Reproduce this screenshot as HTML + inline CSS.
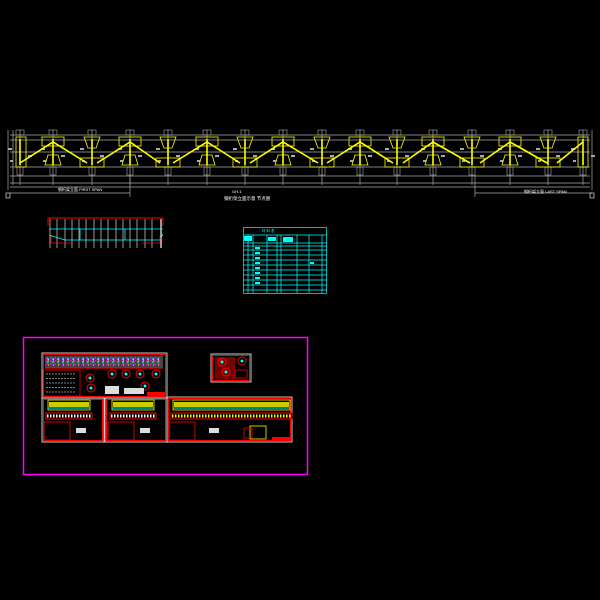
<!DOCTYPE html>
<html><head><meta charset="utf-8"><style>html,body{margin:0;padding:0;background:#000}svg{display:block}</style></head>
<body>
<svg width="600" height="600" viewBox="0 0 600 600" xmlns="http://www.w3.org/2000/svg" xmlns:xlink="http://www.w3.org/1999/xlink">
<defs>
<g id="col"><line x1="0" x2="0" y1="130" y2="185" stroke="#aaa" stroke-width="0.7"/><rect x="-4" y="130" width="8" height="5" fill="none" stroke="#aaa" stroke-width="0.6"/><rect x="-3" y="167" width="6" height="8" fill="none" stroke="#aaa" stroke-width="0.6"/><rect x="-12" y="148" width="4" height="2" fill="#aaa"/><rect x="8" y="155" width="4" height="2" fill="#aaa"/><rect x="-10" y="160" width="3" height="2" fill="#aaa"/><line x1="0" x2="0" y1="139" y2="165" stroke="#ff0" stroke-width="1.6"/></g>
<g id="gt" fill="none" stroke="#ff0" stroke-width="0.8"><rect x="-11" y="137" width="22" height="9"/><path d="M-5 155L-8 165H8L5 155Z"/></g>
<g id="gb" fill="none" stroke="#ff0" stroke-width="0.8"><path d="M-8 137H8L4 148H-4Z"/><rect x="-12" y="158" width="24" height="9"/></g>
<g id="circ"><circle r="4" fill="none" stroke="#f00" stroke-width="1"/><circle r="1.5" fill="#0ff"/></g>
</defs>
<rect width="600" height="600" fill="#000"/>
<g stroke="#aaa" stroke-width="0.7">
<line x1="10" x2="590" y1="135" y2="135"/><line x1="10" x2="590" y1="140" y2="140"/><line x1="10" x2="590" y1="152" y2="152"/><line x1="10" x2="590" y1="167" y2="167"/><line x1="10" x2="590" y1="176" y2="176"/><line x1="10" x2="590" y1="183" y2="183"/><line x1="10" x2="590" y1="187" y2="187"/>
<line x1="8" x2="8" y1="130" y2="190"/><line x1="13" x2="13" y1="130" y2="185"/><line x1="592" x2="592" y1="130" y2="190"/>
<line x1="10" x2="130" y1="193" y2="193"/><line x1="475" x2="592" y1="193" y2="193"/>
<line x1="130" x2="130" y1="175" y2="197"/><line x1="475" x2="475" y1="175" y2="197"/>
</g>
<rect x="6" y="193" width="4" height="5" fill="none" stroke="#fff" stroke-width="0.6"/>
<rect x="590" y="193" width="4" height="5" fill="none" stroke="#fff" stroke-width="0.6"/>
<use xlink:href="#col" x="20"/><use xlink:href="#col" x="53"/><use xlink:href="#col" x="92"/><use xlink:href="#col" x="130"/><use xlink:href="#col" x="168"/><use xlink:href="#col" x="207"/><use xlink:href="#col" x="245"/><use xlink:href="#col" x="283"/><use xlink:href="#col" x="322"/><use xlink:href="#col" x="360"/><use xlink:href="#col" x="397"/><use xlink:href="#col" x="433"/><use xlink:href="#col" x="472"/><use xlink:href="#col" x="510"/><use xlink:href="#col" x="548"/><use xlink:href="#col" x="583"/>
<path d="M20 163L53 142L87 163M97 163L130 142L160 163M173 163L207 142L240 163M250 163L283 142L318 163M327 163L360 142L393 163M403 163L433 142L470 163M480 163L510 142L547 163M557 163L583 142" fill="none" stroke="#ff0" stroke-width="1.6"/>
<use xlink:href="#gt" x="53"/><use xlink:href="#gt" x="130"/><use xlink:href="#gt" x="207"/><use xlink:href="#gt" x="283"/><use xlink:href="#gt" x="360"/><use xlink:href="#gt" x="433"/><use xlink:href="#gt" x="510"/>
<use xlink:href="#gb" x="92"/><use xlink:href="#gb" x="168"/><use xlink:href="#gb" x="245"/><use xlink:href="#gb" x="322"/><use xlink:href="#gb" x="397"/><use xlink:href="#gb" x="472"/><use xlink:href="#gb" x="548"/>
<rect x="16" y="137" width="10" height="30" fill="none" stroke="#ff0" stroke-width="0.8"/>
<rect x="578" y="137" width="10" height="30" fill="none" stroke="#ff0" stroke-width="0.8"/>
<g font-family="Liberation Sans, Noto Sans CJK SC, sans-serif" fill="#fff">
<text x="58" y="191" font-size="4">钢桁架立面 FIRST SPAN</text>
<text x="232" y="193" font-size="4">GH-1</text>
<text x="224" y="200" font-size="4.5">钢桁架立面示意 节点图</text>
<text x="524" y="193" font-size="4">钢桁架立面 LAST SPAN</text>
</g>
<path d="M48 226V218H163V226" fill="none" stroke="#f00" stroke-width="0.9"/>
<g stroke="#fff" stroke-width="0.6">
<line x1="50" x2="50" y1="219" y2="248"/><line x1="57" x2="57" y1="219" y2="248"/><line x1="65" x2="65" y1="219" y2="248"/><line x1="72" x2="72" y1="219" y2="248"/><line x1="79" x2="79" y1="219" y2="248"/><line x1="86" x2="86" y1="219" y2="248"/><line x1="94" x2="94" y1="219" y2="248"/><line x1="101" x2="101" y1="219" y2="248"/><line x1="108" x2="108" y1="219" y2="248"/><line x1="116" x2="116" y1="219" y2="248"/><line x1="123" x2="123" y1="219" y2="248"/><line x1="130" x2="130" y1="219" y2="248"/><line x1="137" x2="137" y1="219" y2="248"/><line x1="145" x2="145" y1="219" y2="248"/><line x1="152" x2="152" y1="219" y2="248"/><line x1="161" x2="161" y1="219" y2="248" stroke-width="1.2"/>
</g>
<path d="M49 229H163M49 235L65 240H160L163 234M80 229V240M125 229V240" fill="none" stroke="#0ff" stroke-width="0.8"/>
<path d="M51 236V243H73M142 243H160V236" fill="none" stroke="#f00" stroke-width="0.8"/>
<g stroke="#0ff" stroke-width="0.7" fill="none">
<rect x="243.5" y="227.5" width="83" height="66"/>
<path d="M243.5 235H326.5M243.5 243H326.5M243.5 246H326.5M243.5 250H326.5M243.5 255H326.5M243.5 260H326.5M243.5 265H326.5M243.5 270H326.5M243.5 275H326.5M243.5 280H326.5M243.5 285H326.5M243.5 290H326.5M248 235V293.5M253 235V293.5M267 235V293.5M277 235V293.5M281 235V293.5M297 235V293.5M309 235V293.5M322 235V293.5"/>
</g>
<g fill="#0ff"><rect x="255" y="247" width="5" height="2"/><rect x="255" y="252" width="5" height="2"/><rect x="255" y="257" width="5" height="2"/><rect x="255" y="262" width="5" height="2"/><rect x="255" y="267" width="5" height="2"/><rect x="255" y="272" width="5" height="2"/><rect x="255" y="277" width="5" height="2"/><rect x="255" y="282" width="5" height="2"/><rect x="244" y="236" width="8" height="5"/><rect x="268" y="237" width="8" height="4"/><rect x="283" y="237" width="10" height="5"/><rect x="310" y="262" width="4" height="2"/></g>
<g font-family="Liberation Sans, Noto Sans CJK SC, sans-serif" fill="#0ff" font-size="3.5"><text x="262" y="232">材 料 表</text></g>
<rect x="23.5" y="337.5" width="284" height="137" fill="none" stroke="#f0f" stroke-width="1.5"/>
<g fill="none">
<rect x="42" y="353" width="125" height="45" stroke="#fff" stroke-width="0.8"/><rect x="43.5" y="354.5" width="122" height="42" stroke="#f00" stroke-width="1"/>
<rect x="211" y="354" width="40" height="28" stroke="#fff" stroke-width="0.8"/><rect x="212.5" y="355.5" width="37" height="25" stroke="#f00" stroke-width="1"/>
<rect x="42" y="398" width="62" height="44" stroke="#fff" stroke-width="0.8"/><rect x="43.5" y="399.5" width="59" height="41" stroke="#f00" stroke-width="1"/>
<rect x="105" y="398" width="62" height="44" stroke="#fff" stroke-width="0.8"/><rect x="106.5" y="399.5" width="59" height="41" stroke="#f00" stroke-width="1"/>
<rect x="167" y="397" width="125" height="45" stroke="#fff" stroke-width="0.8"/><rect x="168.5" y="398.5" width="122" height="42" stroke="#f00" stroke-width="1"/>
</g>
<rect x="45" y="356" width="118" height="12" fill="#444"/>
<path d="M46 358H162M46 361H162M46 364H162" stroke="#f0f" stroke-width="1.2" stroke-dasharray="2 2"/>
<path d="M47 359H162M47 362H162" stroke="#0ff" stroke-width="1.2" stroke-dasharray="2 3"/>
<path d="M48 360H162M48 365H162" stroke="#ff0" stroke-width="1" stroke-dasharray="1 4"/>
<path d="M45 368H163" stroke="#f00" stroke-width="1.2"/>
<rect x="43" y="370" width="37" height="26" fill="none" stroke="#f00" stroke-width="0.8"/>
<path d="M46 374H76M46 378.5H76M46 383H76M46 387.5H76M46 392H76" stroke="#fff" stroke-width="0.6" stroke-dasharray="2 1"/>
<use xlink:href="#circ" x="90" y="378"/><use xlink:href="#circ" x="112" y="374"/><use xlink:href="#circ" x="126" y="374"/><use xlink:href="#circ" x="140" y="374"/><use xlink:href="#circ" x="156" y="374"/><use xlink:href="#circ" x="145" y="386"/><use xlink:href="#circ" x="91" y="388"/>
<rect x="105" y="386" width="14" height="8" fill="#ddd"/><rect x="124" y="388" width="20" height="6" fill="#ddd"/><rect x="147" y="392" width="18" height="4" fill="#f00"/>
<rect x="215" y="357" width="20" height="22" fill="#700"/><rect x="235" y="370" width="12" height="8" fill="none" stroke="#f00" stroke-width="0.8"/>
<use xlink:href="#circ" x="242" y="361"/><use xlink:href="#circ" x="222" y="362"/><use xlink:href="#circ" x="226" y="372"/>
<g>
<rect x="48" y="400" width="42" height="10" fill="none" stroke="#ff0" stroke-width="0.8"/><rect x="49" y="402" width="40" height="5" fill="#cc0"/><line x1="48" x2="90" y1="408" y2="408" stroke="#0ff"/>
<rect x="46" y="413" width="46" height="6" fill="none" stroke="#f00"/><path d="M47 416H91" stroke="#fff" stroke-width="3" stroke-dasharray="1.5 1.5"/>
<rect x="44" y="422" width="26" height="18" fill="none" stroke="#f00" stroke-width="0.8"/><rect x="76" y="428" width="10" height="5" fill="#ddd"/>
<rect x="112" y="400" width="42" height="10" fill="none" stroke="#ff0" stroke-width="0.8"/><rect x="113" y="402" width="40" height="5" fill="#cc0"/><line x1="112" x2="154" y1="408" y2="408" stroke="#0ff"/>
<rect x="110" y="413" width="46" height="6" fill="none" stroke="#f00"/><path d="M111 416H155" stroke="#fff" stroke-width="3" stroke-dasharray="1.5 1.5"/>
<rect x="108" y="422" width="26" height="18" fill="none" stroke="#f00" stroke-width="0.8"/><rect x="140" y="428" width="10" height="5" fill="#ddd"/>
<rect x="173" y="400" width="117" height="10" fill="none" stroke="#ff0" stroke-width="0.8"/><rect x="174" y="402" width="115" height="5" fill="#cc0"/><line x1="173" x2="290" y1="408" y2="408" stroke="#0ff"/>
<rect x="171" y="413" width="121" height="6" fill="none" stroke="#f00"/><path d="M172 416H291" stroke="#ff0" stroke-width="3" stroke-dasharray="1.5 1.5"/>
<rect x="169" y="422" width="26" height="18" fill="none" stroke="#f00" stroke-width="0.8"/><rect x="209" y="428" width="10" height="5" fill="#ddd"/>
</g>
<rect x="250" y="426" width="16" height="13" fill="none" stroke="#ff0" stroke-width="0.8"/>
<rect x="244" y="428" width="8" height="10" fill="none" stroke="#f00" stroke-width="0.8"/>
<rect x="272" y="437" width="18" height="3" fill="#f00"/>
</svg>
</body></html>
